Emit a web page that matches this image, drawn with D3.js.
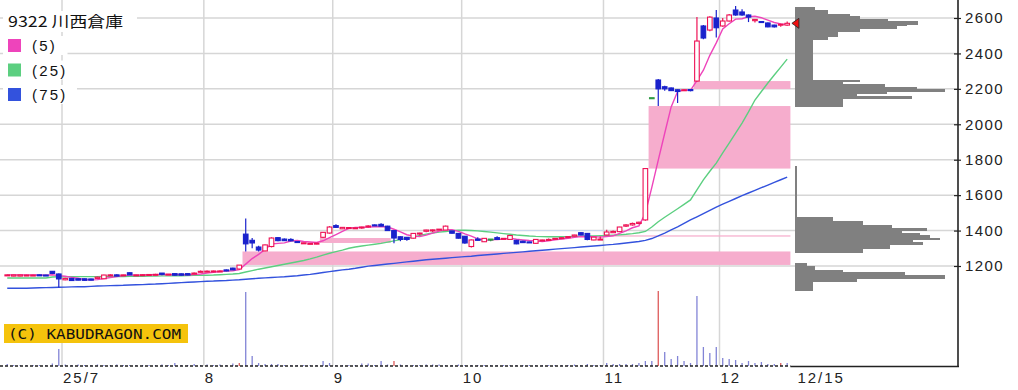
<!DOCTYPE html>
<html>
<head>
<meta charset="utf-8">
<script src="https://cdn.jsdelivr.net/npm/d3@7"></script>
<style>
  body { margin: 0; background: #fff; }
  svg { display: block; }
</style>
</head>
<body>
<svg id="chart" width="1018" height="390"></svg>
<script>
// ---- data ----
const title = '9322 川西倉庫';
const maLabels = ['(5)', '(25)', '(75)'];
const firstDay = '2025-06-18';
const lastDay = '2025-12-15';
const holidays = ['2025-07-21', '2025-08-11', '2025-09-15', '2025-09-23', '2025-10-13', '2025-11-03', '2025-11-24'];
const monthLabels = ['25/7', '8', '9', '10', '11', '12'];
const lastDateLabel = '12/15';
const priceTicks = [1200, 1400, 1600, 1800, 2000, 2200, 2400, 2600];

const opens = [1145,1143,1143,1146,1148,1150,1149,1170,1155,1122, 1130,1128,1128,1127,1130,1128,1146,1150,1145,1162,
  1148,1147,1148,1149,1160,1152,1157,1156,1157,1155, 1165,1166,1167,1168,1178,1188,1183,1380,1345,1307,
  1285,1310,1360,1352,1350,1338,1328,1325,1325,1362, 1386,1428,1410,1415,1414,1415,1420,1432,1435,1425,
  1400,1365,1362,1357,1380,1396,1398,1405,1403,1398, 1384,1368,1310,1352,1337,1352,1360,1353,1350,1345,
  1340,1336,1328,1345,1346,1352,1355,1360,1368,1388, 1384,1347,1349,1375,1388,1394,1425,1432,1440,1460,
  2150,2250,2212,2205,2195,2190,2196,2244,2555,2532, 2600,2555,2583,2645,2634,2617,2585,2580,2572,2560,
  2560,2560];
const highs = [1152,1151,1151,1150,1150,1151,1150,1172,1158,1133, 1131,1129,1129,1128,1140,1150,1153,1153,1151,1163,
  1151,1154,1155,1156,1161,1155,1158,1157,1158,1163, 1174,1175,1174,1174,1180,1190,1206,1468,1358,1315,
  1322,1362,1363,1355,1356,1340,1331,1329,1330,1392, 1425,1435,1420,1419,1418,1421,1430,1434,1442,1427,
  1403,1367,1364,1386,1388,1404,1406,1409,1428,1398, 1386,1370,1350,1362,1358,1353,1368,1357,1375,1347,
  1342,1337,1351,1348,1355,1357,1361,1367,1376,1390, 1386,1364,1366,1405,1400,1421,1436,1445,1450,1750,
  2150,2255,2218,2207,2197,2197,2199,2605,2560,2610, 2645,2600,2622,2668,2650,2620,2595,2583,2575,2562,
  2567,2580];
const lows = [1143,1142,1142,1145,1147,1148,1146,1156,1078,1120, 1117,1119,1118,1119,1129,1127,1145,1142,1144,1149,
  1147,1146,1147,1148,1148,1151,1147,1147,1148,1154, 1164,1165,1165,1166,1171,1177,1180,1282,1300,1282,
  1283,1305,1340,1341,1340,1332,1326,1323,1323,1358, 1383,1415,1409,1413,1412,1410,1417,1428,1424,1399,
  1328,1340,1342,1355,1372,1390,1392,1404,1403,1383, 1355,1325,1305,1344,1335,1340,1348,1351,1348,1323,
  1330,1332,1326,1344,1345,1348,1352,1359,1367,1374, 1345,1345,1348,1373,1386,1392,1420,1428,1436,1455,
  2150,2103,2190,2188,2120,2188,2186,2240,2480,2525, 2490,2550,2580,2612,2612,2577,2575,2574,2548,2546,
  2550,2556];
const closes = [1150,1150,1150,1149,1149,1148,1147,1158,1127,1130, 1118,1120,1119,1120,1137,1149,1150,1143,1150,1150,
  1150,1151,1152,1153,1153,1154,1148,1148,1149,1160, 1170,1171,1172,1172,1172,1178,1205,1325,1330,1290,
  1319,1358,1343,1343,1342,1334,1331,1328,1329,1390, 1420,1418,1418,1417,1416,1420,1426,1429,1425,1400,
  1358,1350,1350,1384,1386,1403,1404,1408,1425,1385, 1357,1330,1347,1345,1356,1352,1350,1356,1372,1325,
  1332,1333,1350,1347,1350,1356,1360,1366,1375,1375, 1350,1363,1352,1392,1395,1420,1432,1440,1447,1750,
  2150,2200,2200,2190,2185,2195,2190,2470,2487,2605, 2545,2583,2617,2617,2617,2605,2592,2577,2550,2550,
  2565,2570];
const volumes = [20,10,10,10,10,10,10,25,170,15, 10,15,10,10,15,10,10,15,10,10,
  10,10,10,10,15,10,30,10,10,20, 10,15,10,15,10,25,30,740,100,30,
  20,20,20,10,10,10,10,10,10,50, 30,10,10,10,10,25,25,10,50,15,
  50,15,10,10,10,15,15,15,10,10, 15,10,10,10,10,10,10,10,10,10,
  10,10,10,10,10,10,10,10,15,10, 20,10,10,30,20,20,20,20,30,50,
  50,750,140,70,100,50,30,700,190,130, 190,80,70,60,30,50,30,40,20,20,
  30,30];
const redVolumeDays = [36, 60, 101, 120];

const ma25 = [1132,1132,1132,1132,1132,1132,1132,
  1138,1139,1139,1140,1140,1140,1140,1140,1141,1141,1141,1141,1142,1142,
  1142,1143,1143,1144,1144,1145,1145,1146,1147,1148,
  1148,1149,1151,1153,1155,1158,
  1166,1174,1182,1189,1196,1203,1210,1217,1224,1231,1240,1250,1261,1272,
  1281,1290,1300,1307,1313,1318,1323,1328,1335,1342,1349,1356,1363,1372,1380,1386,1391,1395,1399,1402,
  1402,1400,1398,1395,1391,1387,1383,1379,1375,1372,1369,1367,1366,1365,1365,1365,1366,1367,1368,1369,1370,1371,1372,1374,1376,1379,1383,1388,
  1395,1420,1450,1475,1499,1523,1548,1573,1630,1686,1735,1781,1838,1894,1950,2007,2070,2137,2185,2233,2278,2323,2368];
const ma75 = [1074,1074,1074,1074,
  1076,1077,1078,1079,1080,1081,1082,1083,1083,
  1085,1087,1088,1089,1090,1091,1093,
  1094,1095,1097,1098,1100,1102,1104,1106,1108,1110,1112,
  1114,1115,1117,1118,1120,1122,1125,1128,
  1131,1133,1135,1137,1139,1142,1145,
  1149,1153,1158,1163,1168,1173,1178,1182,1187,1193,1199,1203,1207,1211,1215,1219,1223,1227,1231,1235,1238,1241,1244,1247,1250,
  1253,1255,1259,1262,1265,1268,1271,1274,1277,1280,1283,1286,1289,1292,1295,1298,1301,1304,1307,1310,1313,1316,1319,1322,1326,1330,1334,1338,
  1345,1355,1370,1386,1404,1421,1440,1460,1478,1496,1514,1533,1549,1565,1581,1597,1612,1627,1642,1657,1672,1687,1702];

// unfilled price gaps (windows): start day, end day, lower and upper price
const gapStart = [37, 49, 69, 93, 100, 107];
const gapEnd = [122, 60, 93, 122, 122, 122];
const gapLow = [1206, 1330, 1398, 1366, 1750, 2199];
const gapHigh = [1282, 1358, 1403, 1373, 2103, 2244];
const gapUp = [true, true, false, true, true, true];

// volume by price
const pvTop = [2662,2645,2622,2611,2593,2579,2566,2555,2542,2523,2494,2480,2250,2239,2222,2209,2198,2184,2171,2156,2143,
  1759,1471,1450,1431,1413,1398,1385,1371,1358,1347,1332,1319,1300,
  1215,1196,1177,1162,1144,1131,1111];
const pvBottom = [2645,2622,2611,2593,2579,2566,2555,2542,2523,2494,2480,2250,2239,2222,2209,2198,2184,2171,2156,2143,2103,
  1471,1450,1431,1413,1398,1385,1371,1358,1347,1332,1319,1300,1277,
  1196,1177,1162,1144,1131,1111,1064];
const pvVolume = [20,33,55,65,93,123,112,102,65,43,33,18,65,48,90,122,150,92,62,117,48,
  2,38,68,97,132,107,125,135,145,118,128,95,68,
  12,20,48,110,150,62,18];

// ---- trading calendar ----
const fmt = d3.timeFormat('%Y-%m-%d');
const parse = d3.timeParse('%Y-%m-%d');
const days = d3.timeDay.range(parse(firstDay), d3.timeDay.offset(parse(lastDay), 1))
  .filter(d => d.getDay() > 0 && d.getDay() < 6 && !holidays.includes(fmt(d)));
const monthStarts = days.map((d, i) => i).filter(i => i > 0 && days[i].getMonth() !== days[i - 1].getMonth());

// ---- layout ----
const svg = d3.select('#chart');
const slotCount = 148; // trading-day slots across the plot, the last ones hold the volume profile
const right = 958, bottom = 366;

const x = d3.scaleLinear().domain([0, slotCount]).range([4, right]);
const cx = i => x(i + 0.5);
const y = d3.scaleLinear().domain([1200, 2600]).range([266, 18]);
const yVol = d3.scaleLinear().domain([0, 750]).range([bottom, 291]);
const xProfile = d3.scaleLinear().domain([0, 150]).range([x(days.length) + 5, x(days.length) + 155]);

const C = {
    grid: '#d6d6d6', up: '#ee1155', down: '#1a22cc', even: '#2f9a45',
    ma5: '#ee44bb', ma25: '#5ccf80', ma75: '#3352dd',
    gapUp: '#f6adcd', gapDown: '#c9d8ee', volBlue: '#8284d6', volRed: '#dd5a5a', profile: '#808080'
};

svg.append('rect').attr('width', 1018).attr('height', 390).attr('fill', '#fff');

// grid
svg.append('g').selectAll('line').data(priceTicks).join('line')
    .attr('x1', 0).attr('x2', right).attr('y1', d => y(d)).attr('y2', d => y(d))
    .attr('stroke', C.grid).attr('stroke-width', 1.5);
svg.append('g').selectAll('line').data(monthStarts).join('line')
    .attr('x1', d => x(d)).attr('x2', d => x(d)).attr('y1', 0).attr('y2', bottom)
    .attr('stroke', C.grid).attr('stroke-width', 1.5);

// gap windows
svg.append('g').selectAll('rect').data(gapStart).join('rect')
    .attr('x', (d, k) => x(d))
    .attr('width', (d, k) => x(gapEnd[k]) - x(d))
    .attr('y', (d, k) => y(gapHigh[k]))
    .attr('height', (d, k) => Math.max(1, y(gapLow[k]) - y(gapHigh[k])))
    .attr('fill', (d, k) => gapUp[k] ? C.gapUp : C.gapDown);

// moving averages
const idx = d3.range(days.length);
const ma5 = idx.map(i => d3.mean(closes.slice(Math.max(0, i - 4), i + 1)));
const line = d3.line().x((d, i) => cx(i)).y(d => y(d));
[[ma75, C.ma75], [ma25, C.ma25], [ma5, C.ma5]].forEach(([s, c]) => {
    svg.append('path').datum(s).attr('d', line)
        .attr('fill', 'none').attr('stroke', c).attr('stroke-width', 1.4);
});

// candles
const colorOf = i => closes[i] > opens[i] ? C.up : closes[i] < opens[i] ? C.down : C.even;
const candles = svg.append('g').selectAll('g').data(idx).join('g');
candles.append('line')
    .attr('x1', i => cx(i)).attr('x2', i => cx(i))
    .attr('y1', i => y(highs[i])).attr('y2', i => y(lows[i]))
    .attr('stroke', colorOf).attr('stroke-width', 1.2);
candles.append('rect')
    .attr('x', i => cx(i) - 2.3).attr('width', 4.6)
    .attr('y', i => y(Math.max(opens[i], closes[i])))
    .attr('height', i => Math.max(1, Math.abs(y(opens[i]) - y(closes[i]))))
    .attr('fill', i => closes[i] > opens[i] ? '#fff' : colorOf(i))
    .attr('stroke', colorOf).attr('stroke-width', 1.1);

// volume
svg.append('g').selectAll('line').data(idx).join('line')
    .attr('x1', i => cx(i)).attr('x2', i => cx(i))
    .attr('y1', yVol(0)).attr('y2', i => yVol(volumes[i]))
    .attr('stroke', i => redVolumeDays.includes(i) ? C.volRed : C.volBlue)
    .attr('stroke-width', 1.3);
svg.append('line').attr('x1', 0).attr('x2', x(days.length)).attr('y1', bottom).attr('y2', bottom)
    .attr('stroke', '#222').attr('stroke-width', 1.5).attr('stroke-dasharray', '3,2');

// volume by price
svg.append('g').attr('shape-rendering', 'crispEdges')
    .selectAll('rect').data(pvVolume).join('rect')
    .attr('x', xProfile(0))
    .attr('width', d => xProfile(d) - xProfile(0))
    .attr('y', (d, k) => Math.floor(y(pvTop[k])))
    .attr('height', (d, k) => Math.ceil(y(pvBottom[k])) - Math.floor(y(pvTop[k])))
    .attr('fill', C.profile);

// last price marker
const lastY = y(closes[closes.length - 1]);
const tipX = x(days.length) + 1.5;
svg.append('path')
    .attr('d', `M${tipX},${lastY} L${tipX + 7},${lastY - 5} L${tipX + 7},${lastY + 5} Z`)
    .attr('fill', '#ee1111').attr('stroke', '#222').attr('stroke-width', 0.8);

// frame and price axis
svg.append('line').attr('x1', x(days.length)).attr('x2', right + 1).attr('y1', bottom + 0.5).attr('y2', bottom + 0.5)
    .attr('stroke', '#222').attr('stroke-width', 1.5);
const axis = svg.append('g').attr('transform', `translate(${right},0)`)
    .call(d3.axisRight(y).tickValues(priceTicks).tickFormat(d3.format('d'))
        .tickSizeInner(3).tickSizeOuter(0).tickPadding(4))
    .call(g => g.select('.domain').remove());
axis.selectAll('.tick line').attr('x1', -4).attr('x2', 3).attr('stroke', '#222').attr('stroke-width', 1.2);
axis.selectAll('text')
    .attr('font-family', '"Liberation Sans", Arial, sans-serif').attr('font-size', 15)
    .attr('letter-spacing', 1.4).attr('fill', '#222');
svg.append('line').attr('x1', right).attr('x2', right).attr('y1', 0).attr('y2', bottom + 1)
    .attr('stroke', '#222').attr('stroke-width', 1.6);

// date labels
const xLabels = monthStarts.map((d, k) => ({ x: x(d) + 1, t: monthLabels[k] }))
    .concat([{ x: x(days.length) + 7, t: lastDateLabel }]);
svg.append('g').selectAll('text').data(xLabels).join('text')
    .attr('x', d => d.x).attr('y', 383)
    .attr('font-family', '"Liberation Sans", Arial, sans-serif').attr('font-size', 15)
    .attr('letter-spacing', 2).attr('fill', '#222')
    .text(d => d.t);

// legend
const legend = svg.append('g');
legend.append('rect').attr('x', 3).attr('y', 11).attr('width', 134).attr('height', 21).attr('fill', '#fff');
legend.append('text').attr('x', 8).attr('y', 27)
    .attr('font-family', '"Noto Sans CJK JP", sans-serif').attr('font-size', 15)
    .attr('textLength', 115).attr('lengthAdjust', 'spacingAndGlyphs').attr('fill', '#111')
    .text(title);
const maColors = [C.ma5, C.ma25, C.ma75];
maLabels.forEach((t, k) => {
    const top = 38 + k * 24.5;
    legend.append('rect').attr('x', 3).attr('y', top - 2).attr('width', t.length * 9.5 + 36).attr('height', 19).attr('fill', '#fff');
    legend.append('rect').attr('x', 8).attr('y', top + 1).attr('width', 13).attr('height', 13).attr('fill', maColors[k]);
    legend.append('text').attr('x', 32).attr('y', top + 13)
        .attr('font-family', '"Liberation Sans", Arial, sans-serif').attr('font-size', 15)
        .attr('letter-spacing', 2.2).attr('fill', '#111').text(t);
});

// copyright badge
svg.append('rect').attr('x', 4).attr('y', 324).attr('width', 184).attr('height', 19).attr('fill', '#f5c30c');
svg.append('text').attr('x', 8).attr('y', 339)
    .attr('font-family', '"DejaVu Sans Mono", monospace').attr('font-size', 14)
    .attr('textLength', 173).attr('lengthAdjust', 'spacingAndGlyphs').attr('fill', '#111')
    .text('(C) KABUDRAGON.COM');
</script>
</body>
</html>
